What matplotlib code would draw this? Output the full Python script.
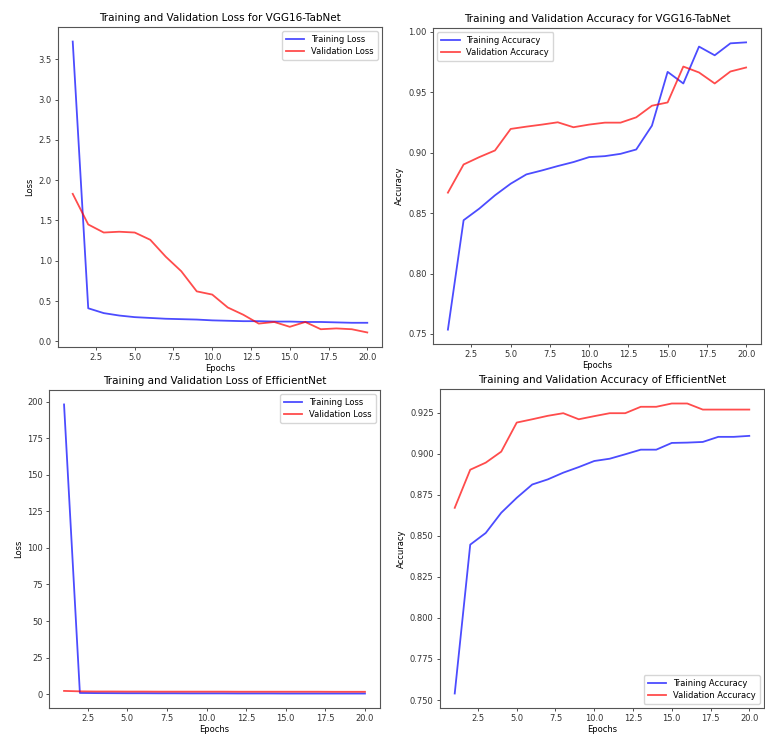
import numpy as np
import matplotlib
matplotlib.use("Agg")
import matplotlib.pyplot as plt

epochs = list(range(1, 21))

# VGG16-TabNet
vgg_train_loss = [3.72, 0.41, 0.35, 0.32, 0.30, 0.29, 0.28, 0.275, 0.27, 0.26,
                  0.255, 0.25, 0.25, 0.245, 0.245, 0.24, 0.24, 0.235, 0.23, 0.23]
vgg_val_loss = [1.83, 1.45, 1.35, 1.36, 1.35, 1.26, 1.05, 0.87, 0.62, 0.58,
                0.42, 0.33, 0.22, 0.24, 0.18, 0.24, 0.15, 0.16, 0.15, 0.11]
vgg_train_acc = [0.7536, 0.8441, 0.8537, 0.8647, 0.8743, 0.882, 0.8853, 0.8889, 0.8922, 0.8963,
                 0.8971, 0.899, 0.9026, 0.9223, 0.9668, 0.9572, 0.9877, 0.9805, 0.9904, 0.9912]
vgg_val_acc = [0.8669, 0.8902, 0.8963, 0.9018, 0.9196, 0.9215, 0.9232, 0.9251, 0.921, 0.9232,
               0.9248, 0.9248, 0.9292, 0.9388, 0.9415, 0.9712, 0.9663, 0.9572, 0.9671, 0.9704]

# EfficientNet
eff_train_loss = [198.0, 0.9, 0.8, 0.75, 0.7, 0.7, 0.65, 0.65, 0.6, 0.6,
                  0.6, 0.55, 0.55, 0.55, 0.5, 0.5, 0.5, 0.5, 0.5, 0.5]
eff_val_loss = [2.3, 2.0, 1.9, 1.9, 1.85, 1.85, 1.8, 1.8, 1.8, 1.8,
                1.8, 1.75, 1.75, 1.75, 1.75, 1.75, 1.75, 1.7, 1.7, 1.7]
eff_train_acc = [0.754, 0.8446, 0.8517, 0.864, 0.8731, 0.8812, 0.8843, 0.8884, 0.8918, 0.8955,
                 0.8969, 0.8996, 0.9024, 0.9024, 0.9065, 0.9067, 0.9071, 0.9102, 0.9102, 0.9108]
eff_val_acc = [0.867, 0.8902, 0.8945, 0.9012, 0.9189, 0.9209, 0.923, 0.9246, 0.9209, 0.9228,
               0.9246, 0.9246, 0.9285, 0.9285, 0.9305, 0.9305, 0.9268, 0.9268, 0.9268, 0.9268]

W, H = 765, 736
fig = plt.figure(figsize=(W / 100, H / 100), dpi=100)


def px_axes(left, top, right, bottom):
    # axes box given in pixel coords of the picture
    return fig.add_axes([left / W, 1 - bottom / H, (right - left) / W, (bottom - top) / H])


def draw_panel(ax, train, val, title, ylabel, names, legend_loc):
    ax.plot(epochs, train, color="blue", alpha=0.7, lw=1.3, label=names[0])
    ax.plot(epochs, val, color="red", alpha=0.7, lw=1.3, label=names[1])
    ax.set_title(title, fontsize=7.5, pad=4)
    ax.set_xlabel("Epochs", fontsize=6, labelpad=1)
    ax.set_ylabel(ylabel, fontsize=6, labelpad=3)
    ax.tick_params(labelsize=6, length=2.5, width=0.6, colors="#333333", pad=2)
    for s in ax.spines.values():
        s.set_color("#555555")
        s.set_linewidth(0.8)
    ax.legend(loc=legend_loc, fontsize=6, handlelength=2.2, borderpad=0.5,
              labelspacing=0.3, framealpha=0.8, edgecolor="#cccccc")


ax1 = px_axes(58, 27, 382, 347)
draw_panel(ax1, vgg_train_loss, vgg_val_loss, "Training and Validation Loss for VGG16-TabNet",
           "Loss", ["Training Loss", "Validation Loss"], "upper right")

ax2 = px_axes(433, 28, 761, 344)
draw_panel(ax2, vgg_train_acc, vgg_val_acc, "Training and Validation Accuracy for VGG16-TabNet",
           "Accuracy", ["Training Accuracy", "Validation Accuracy"], "upper left")

ax3 = px_axes(49, 390, 380, 708)
draw_panel(ax3, eff_train_loss, eff_val_loss, "Training and Validation Loss of EfficientNet",
           "Loss", ["Training Loss", "Validation Loss"], "upper right")

ax4 = px_axes(440, 389, 764, 708)
draw_panel(ax4, eff_train_acc, eff_val_acc, "Training and Validation Accuracy of EfficientNet",
           "Accuracy", ["Training Accuracy", "Validation Accuracy"], "lower right")

fig.savefig("out.png", dpi=100)
